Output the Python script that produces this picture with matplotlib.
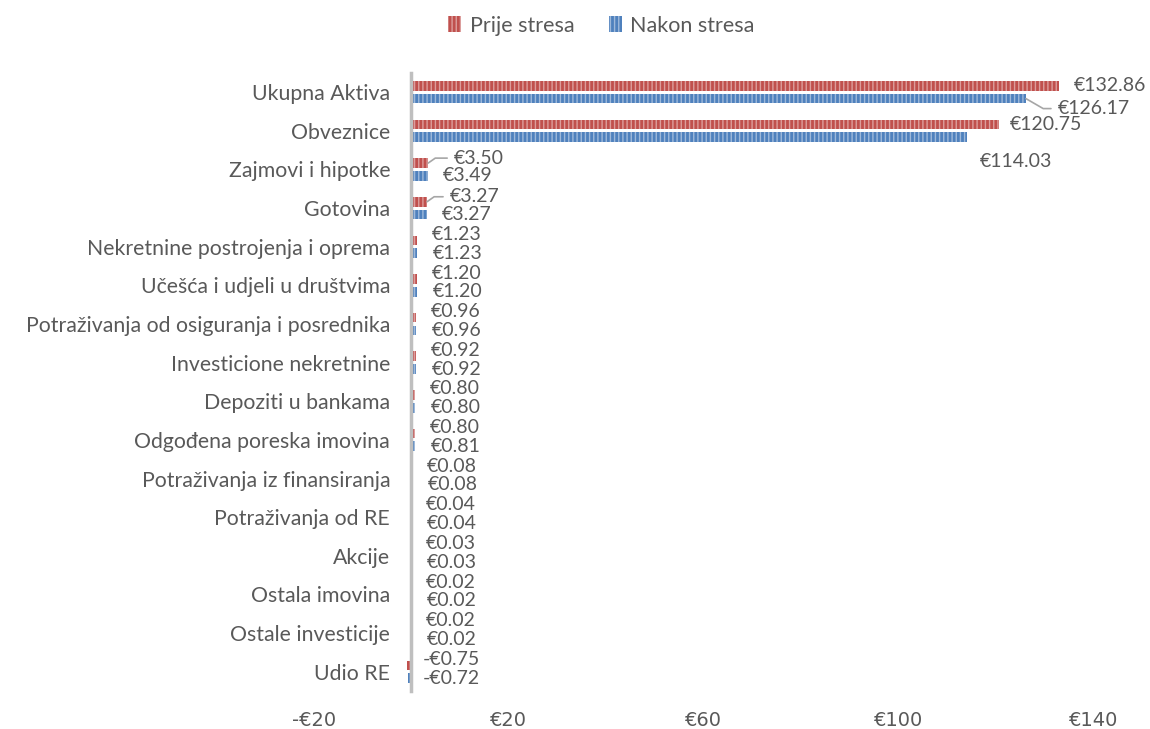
import numpy as np
import matplotlib
matplotlib.use("Agg")
import matplotlib.pyplot as plt
from matplotlib.ticker import FuncFormatter

categories = [
    "Ukupna Aktiva", "Obveznice", "Zajmovi i hipotke", "Gotovina",
    "Nekretnine postrojenja i oprema", "Učešća i udjeli u društvima",
    "Potraživanja od osiguranja i posrednika", "Investicione nekretnine",
    "Depoziti u bankama", "Odgođena poreska imovina",
    "Potraživanja iz finansiranja", "Potraživanja od RE", "Akcije",
    "Ostala imovina", "Ostale investicije", "Udio RE",
]
prije = [132.86, 120.75, 3.50, 3.27, 1.23, 1.20, 0.96, 0.92, 0.80, 0.80,
         0.08, 0.04, 0.03, 0.02, 0.02, -0.75]
nakon = [126.17, 114.03, 3.49, 3.27, 1.23, 1.20, 0.96, 0.92, 0.80, 0.81,
         0.08, 0.04, 0.03, 0.02, 0.02, -0.72]
x_ticks = [-20, 20, 60, 100, 140]

RED = "#C0504D"
BLUE = "#4F81BD"
TXT = "#595959"
FONT = ["Lato", "DejaVu Sans"]

plt.rcParams["hatch.linewidth"] = 1.0

fig = plt.figure(figsize=(11.5, 7.29), dpi=100)
ax = fig.add_axes([0.2727, 0.052, 0.678, 0.848])

y = np.arange(len(categories))
h = 0.25
off = 0.165
b1 = ax.barh(y - off, prije, height=h, color=RED, edgecolor=(1, 1, 1, 0.45),
             linewidth=0, hatch="||||", label="Prije stresa")
b2 = ax.barh(y + off, nakon, height=h, color=BLUE, edgecolor=(1, 1, 1, 0.45),
             linewidth=0, hatch="||||", label="Nakon stresa")

# spine position first, it resets the ticks
for s in ["top", "right", "bottom"]:
    ax.spines[s].set_visible(False)
ax.spines["left"].set_position(("data", 0))
ax.spines["left"].set_color("#BFBFBF")
ax.spines["left"].set_linewidth(2.5)

ax.set_xlim(-20, 140)
ax.set_ylim(len(categories) - 0.5, -0.5)
ax.set_xticks(x_ticks)
ax.xaxis.set_major_formatter(FuncFormatter(lambda v, p: f"-€{abs(v):.0f}" if v < 0 else f"€{v:.0f}"))
ax.tick_params(axis="x", length=0, pad=14, labelsize=14, labelcolor=TXT)
for t in ax.get_xticklabels():
    t.set_family(["Liberation Sans Narrow", "DejaVu Sans"])

ax.set_yticks(y)
ax.set_yticklabels(categories, fontsize=15.3, color=TXT, family=FONT)
ax.tick_params(axis="y", length=0, pad=15)

# label offsets in pixels (dx from bar end, dy from bar centre), Excel moved some
red_off = [(15, 0), (10, 0), (26, -5), (23, -5)] + [(15, -6)] * 11 + [(12, -6)]
blue_off = [(32, 10), (13, 24), (15, 0), (15, 0)] + [(16, 0)] * 11 + [(12, 0)]
leaders = {("r", 2), ("r", 3), ("b", 0)}

def lab(v):
    return f"-€{abs(v):.2f}" if v < 0 else f"€{v:.2f}"

for i in range(len(categories)):
    for key, vals, offs, yy in (("r", prije, red_off, y[i] - off), ("b", nakon, blue_off, y[i] + off)):
        v = vals[i]
        x0 = max(v, 0)
        dx, dy = offs[i]
        ap = None
        if (key, i) in leaders:
            ap = dict(arrowstyle="-", color="#A6A6A6", lw=1.2, shrinkA=3, shrinkB=0,
                      relpos=(0, 0.5), connectionstyle="angle,angleA=0,angleB=35,rad=0")
            if key == "b":
                ap["connectionstyle"] = "angle,angleA=0,angleB=-30,rad=0"
        ax.annotate(lab(v), xy=(x0, yy), xytext=(dx, -dy), textcoords="offset pixels",
                    ha="left", va="center", fontsize=14, color=TXT, family=FONT,
                    arrowprops=ap)

leg = fig.legend(handles=[b1, b2], loc="upper center", bbox_to_anchor=(0.523, 1.005),
                 ncol=2, frameon=False, fontsize=15.5, handlelength=0.6, handleheight=0.8,
                 handletextpad=0.4, columnspacing=1.6)
for t in leg.get_texts():
    t.set_color(TXT)
    t.set_family(FONT)

fig.savefig("out.png", dpi=100)
